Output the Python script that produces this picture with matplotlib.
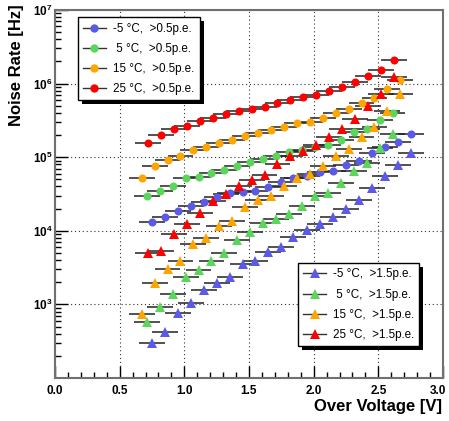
import math
import matplotlib
matplotlib.use('Agg')
import matplotlib.pyplot as plt
import matplotlib.transforms as mtransforms
from matplotlib.lines import Line2D
from matplotlib.patches import Rectangle
from matplotlib.ticker import FixedLocator, NullFormatter, MultipleLocator, FuncFormatter

plt.rcParams['font.family'] = ['Liberation Sans', 'DejaVu Sans']
plt.rcParams['mathtext.fontset'] = 'custom'
plt.rcParams['mathtext.rm'] = 'Liberation Sans'
plt.rcParams['mathtext.bf'] = 'Liberation Sans:bold'

# ---------------- data ----------------
v_m5 = [0.75, 0.85, 0.95, 1.05, 1.15, 1.25, 1.35, 1.45, 1.55, 1.65, 1.75,
        1.84, 1.95, 2.05, 2.15, 2.25, 2.35, 2.45, 2.55, 2.65, 2.75]
v_5 = [0.71, 0.81, 0.91, 1.01, 1.11, 1.21, 1.31, 1.41, 1.51, 1.61,
       1.71, 1.81, 1.91, 2.01, 2.11, 2.21, 2.31, 2.41, 2.51, 2.61]
v_15 = [0.67, 0.77, 0.87, 0.97, 1.07, 1.17, 1.27, 1.37, 1.47, 1.57, 1.67,
        1.77, 1.87, 1.97, 2.07, 2.17, 2.27, 2.37, 2.47, 2.57, 2.67]
v_25 = [0.72, 0.82, 0.92, 1.02, 1.12, 1.22, 1.32, 1.42, 1.52, 1.62,
        1.72, 1.82, 1.92, 2.02, 2.12, 2.22, 2.32, 2.42, 2.52, 2.62]

rate05_m5 = [1.30e4, 1.52e4, 1.87e4, 2.19e4, 2.48e4, 2.85e4, 3.23e4, 3.40e4, 3.51e4, 3.97e4, 4.56e4,
             5.17e4, 5.56e4, 6.24e4, 6.56e4, 7.83e4, 8.96e4, 1.13e5, 1.36e5, 1.61e5, 2.05e5]
rate05_5 = [3.00e4, 3.51e4, 4.10e4, 5.22e4, 5.43e4, 6.04e4, 6.70e4, 7.59e4, 8.69e4, 9.36e4,
            1.04e5, 1.18e5, 1.25e5, 1.36e5, 1.45e5, 1.71e5, 2.20e5, 2.44e5, 3.17e5, 3.95e5]
rate05_15 = [5.17e4, 7.59e4, 9.16e4, 1.03e5, 1.25e5, 1.36e5, 1.55e5, 1.71e5, 1.92e5, 2.11e5, 2.32e5,
             2.55e5, 2.89e5, 2.98e5, 3.44e5, 3.95e5, 4.56e5, 5.40e5, 6.43e5, 8.53e5, 1.12e6]
rate05_25 = [1.55e5, 1.99e5, 2.39e5, 2.66e5, 3.10e5, 3.41e5, 3.83e5, 4.29e5, 4.56e5, 4.86e5,
             5.50e5, 5.98e5, 6.51e5, 7.07e5, 8.01e5, 8.99e5, 1.05e6, 1.27e6, 1.52e6, 2.07e6]

rate15_m5 = [296, 426, 771, 1055, 1570, 1937, 2335, 3510, 3930, 5200, 6080,
             8320, 1.03e4, 1.24e4, 1.56e4, 1.96e4, 2.60e4, 3.78e4, 5.50e4, 7.76e4, 1.13e5]
rate15_5 = [582, 931, 1364, 2335, 2933, 3890, 4940, 7570, 9720, 1.26e4,
            1.45e4, 1.69e4, 2.17e4, 2.95e4, 3.28e4, 4.42e4, 6.53e4, 8.41e4, 1.35e5, 2.05e5]
rate15_15 = [751, 1937, 3000, 3890, 6560, 7860, 1.17e4, 1.37e4, 2.12e4, 2.66e4, 2.99e4,
             4.03e4, 5.17e4, 5.86e4, 7.71e4, 1.04e5, 1.30e5, 1.88e5, 2.55e5, 4.27e5, 7.18e5]
rate15_25 = [4940, 5320, 8960, 1.22e4, 1.73e4, 2.56e4, 3.16e4, 4.06e4, 4.90e4, 5.82e4,
             8.16e4, 1.05e5, 1.21e5, 1.46e5, 1.88e5, 2.39e5, 3.27e5, 4.92e5, 7.18e5, 1.24e6]

v_err = 0.1

labels05 = ['-5 °C,  >0.5p.e.', ' 5 °C,  >0.5p.e.', '15 °C,  >0.5p.e.', '25 °C,  >0.5p.e.']
labels15 = ['-5 °C,  >1.5p.e.', ' 5 °C,  >1.5p.e.', '15 °C,  >1.5p.e.', '25 °C,  >1.5p.e.']
colors = ['#5a5ae6', '#5ad75a', '#ffa500', '#ff0000']

volts = [v_m5, v_5, v_15, v_25]
rates05 = [rate05_m5, rate05_5, rate05_15, rate05_25]
rates15 = [rate15_m5, rate15_5, rate15_15, rate15_25]

# ---------------- figure ----------------
fig = plt.figure(figsize=(4.49, 4.21), dpi=100)
ax = fig.add_axes([55 / 449, 1 - 378 / 421, 388 / 449, 368 / 421])
ax.set_yscale('log')
ax.set_xlim(0, 3)
ax.set_ylim(1e2, 1e7)

for v, r, c in zip(volts, rates05, colors):
    ax.errorbar(v, r, xerr=v_err, fmt='o', color=c, ecolor='#222222', elinewidth=1.1,
                capsize=2.6, capthick=1.1, markersize=5.8, markeredgewidth=0, zorder=3)
for v, r, c in zip(volts, rates15, colors):
    ax.errorbar(v, r, xerr=v_err, fmt='^', color=c, ecolor='#222222', elinewidth=1.1,
                capsize=2.6, capthick=1.1, markersize=6.5, markeredgewidth=0, zorder=3)

# axes styling
for s in ax.spines.values():
    s.set_color('#707070')
    s.set_linewidth(1.5)

ax.xaxis.set_major_locator(MultipleLocator(0.5))
ax.xaxis.set_minor_locator(MultipleLocator(0.1))
ax.xaxis.set_major_formatter(FuncFormatter(lambda x, p: '%.1f' % x))
ax.yaxis.set_major_locator(FixedLocator([1e3, 1e4, 1e5, 1e6, 1e7]))
minor = [m * 10 ** e for e in range(2, 7) for m in range(2, 10)]
ax.yaxis.set_minor_locator(FixedLocator(minor))
ax.yaxis.set_minor_formatter(NullFormatter())
ax.yaxis.set_major_formatter(FuncFormatter(lambda y, p: r'$\mathbf{10^{%d}}$' % round(math.log10(y))))

ax.tick_params(axis='both', which='both', direction='in', top=False, right=False, colors='black')
ax.tick_params(axis='x', which='major', length=9, width=1, pad=5, labelsize=8.5)
ax.tick_params(axis='x', which='minor', length=4.5, width=1)
ax.tick_params(axis='y', which='major', length=9, width=1, pad=2, labelsize=8.5)
ax.tick_params(axis='y', which='minor', length=4.5, width=1)

ax.grid(True, which='major', linestyle=(0, (1, 2.5)), color='#333333', linewidth=0.8)

fig.text(17 / 449, 1 - 4 / 421, 'Noise Rate [Hz]', rotation=90, ha='center', va='top',
         fontsize=12, fontweight='bold')
fig.text(442 / 449, 1 - 406 / 421, 'Over Voltage [V]', ha='right', va='center',
         fontsize=12, fontweight='bold')

# legends
h05 = [Line2D([], [], color='#333333', lw=1, marker='o', markerfacecolor=c,
              markeredgewidth=0, markersize=6) for c in colors]
h15 = [Line2D([], [], color='#333333', lw=1, marker='^', markerfacecolor=c,
              markeredgewidth=0, markersize=7) for c in colors]

leg_kw = dict(fancybox=False, framealpha=1, edgecolor='black', fontsize=8.4, mode='expand',
              borderaxespad=0, labelspacing=0.7, handlelength=2.0, handletextpad=0.6,
              borderpad=0.45, loc='upper left')
leg1 = ax.legend(h05, labels05, bbox_to_anchor=(0.058, 0.755, 0.316, 0.225), **leg_kw)
leg1.get_frame().set_linewidth(1.0)
ax.add_artist(leg1)
leg2 = ax.legend(h15, labels15, bbox_to_anchor=(0.626, 0.087, 0.313, 0.225), **leg_kw)
leg2.get_frame().set_linewidth(1.0)

fig.canvas.draw()
for lab in ax.get_xticklabels():
    lab.set_fontweight('bold')
    if lab.get_text() == '3.0':
        lab.set_transform(lab.get_transform() +
                          mtransforms.ScaledTranslation(-3.5 / 72, 0, fig.dpi_scale_trans))
fig.canvas.draw()
renderer = fig.canvas.get_renderer()
W, H = fig.bbox.width, fig.bbox.height
for lg in (leg1, leg2):
    bb = lg.get_frame().get_window_extent(renderer)
    ax.add_patch(Rectangle(((bb.x0 + 4) / W, (bb.y0 - 4) / H), bb.width / W, bb.height / H,
                           transform=fig.transFigure, facecolor='black', edgecolor='none',
                           zorder=lg.get_zorder() - 0.1, clip_on=False))

fig.savefig('out.png', dpi=100)
